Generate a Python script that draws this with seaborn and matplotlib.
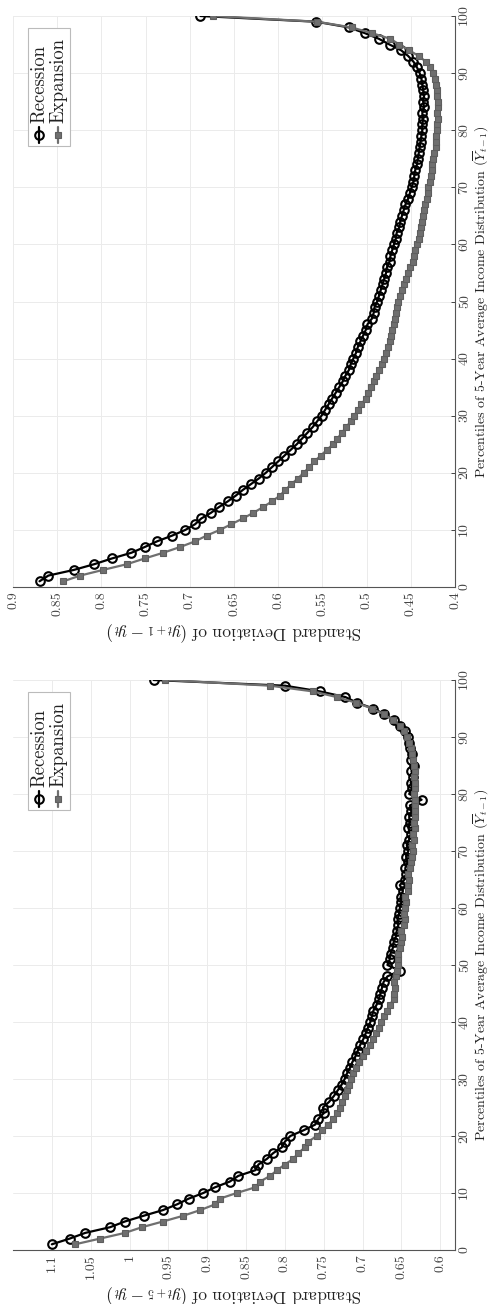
import seaborn as sns
import pandas as pd
import matplotlib.pyplot as plt
from matplotlib.lines import Line2D
from matplotlib.patches import Rectangle

# percentiles of the 5-year average income distribution
percentiles = list(range(1, 101))

# std of (y_{t+1} - y_t)
rec_1yr = [0.870, 0.860, 0.831, 0.808, 0.788, 0.766, 0.751, 0.737, 0.720, 0.705,
           0.694, 0.687, 0.676, 0.667, 0.657, 0.648, 0.640, 0.631, 0.622, 0.614,
           0.607, 0.600, 0.593, 0.586, 0.579, 0.573, 0.567, 0.561, 0.556, 0.551,
           0.547, 0.543, 0.539, 0.535, 0.531, 0.527, 0.524, 0.520, 0.518, 0.515,
           0.512, 0.510, 0.507, 0.504, 0.501, 0.499, 0.494, 0.492, 0.491, 0.488,
           0.486, 0.484, 0.482, 0.480, 0.478, 0.477, 0.474, 0.473, 0.471, 0.469,
           0.467, 0.466, 0.463, 0.462, 0.460, 0.458, 0.456, 0.453, 0.451, 0.449,
           0.447, 0.446, 0.445, 0.443, 0.442, 0.441, 0.440, 0.439, 0.438, 0.437,
           0.437, 0.436, 0.437, 0.435, 0.436, 0.435, 0.436, 0.437, 0.438, 0.440,
           0.443, 0.447, 0.453, 0.461, 0.474, 0.486, 0.502, 0.520, 0.557, 0.688]
exp_1yr = [0.843, 0.824, 0.798, 0.771, 0.751, 0.730, 0.711, 0.694, 0.681, 0.666,
           0.653, 0.640, 0.628, 0.617, 0.607, 0.598, 0.592, 0.585, 0.578, 0.571,
           0.565, 0.559, 0.552, 0.545, 0.538, 0.533, 0.528, 0.523, 0.518, 0.514,
           0.510, 0.506, 0.501, 0.498, 0.495, 0.492, 0.489, 0.486, 0.483, 0.480,
           0.478, 0.476, 0.474, 0.472, 0.471, 0.469, 0.468, 0.467, 0.466, 0.464,
           0.462, 0.460, 0.458, 0.455, 0.453, 0.451, 0.448, 0.446, 0.445, 0.443,
           0.441, 0.440, 0.439, 0.437, 0.436, 0.435, 0.434, 0.432, 0.431, 0.430,
           0.428, 0.427, 0.426, 0.426, 0.425, 0.424, 0.422, 0.421, 0.421, 0.420,
           0.420, 0.419, 0.420, 0.419, 0.419, 0.420, 0.420, 0.422, 0.423, 0.425,
           0.428, 0.433, 0.441, 0.452, 0.463, 0.473, 0.494, 0.517, 0.556, 0.674]

# std of (y_{t+5} - y_t)
rec_5yr = [1.100, 1.077, 1.057, 1.025, 1.006, 0.982, 0.957, 0.939, 0.924, 0.905,
           0.890, 0.871, 0.860, 0.838, 0.834, 0.823, 0.815, 0.804, 0.800, 0.793,
           0.776, 0.761, 0.757, 0.750, 0.751, 0.743, 0.737, 0.732, 0.727, 0.723,
           0.720, 0.716, 0.713, 0.709, 0.706, 0.703, 0.699, 0.696, 0.693, 0.690,
           0.688, 0.686, 0.682, 0.679, 0.677, 0.675, 0.673, 0.668, 0.652, 0.668,
           0.665, 0.664, 0.661, 0.660, 0.657, 0.656, 0.654, 0.655, 0.653, 0.652,
           0.650, 0.651, 0.648, 0.652, 0.646, 0.644, 0.645, 0.642, 0.644, 0.641,
           0.643, 0.640, 0.638, 0.641, 0.639, 0.640, 0.637, 0.639, 0.624, 0.640,
           0.636, 0.638, 0.635, 0.637, 0.634, 0.638, 0.636, 0.639, 0.640, 0.642,
           0.646, 0.652, 0.660, 0.672, 0.686, 0.707, 0.722, 0.755, 0.800, 0.969]
exp_5yr = [1.070, 1.038, 1.006, 0.984, 0.957, 0.931, 0.909, 0.890, 0.884, 0.862,
           0.838, 0.832, 0.819, 0.810, 0.800, 0.789, 0.783, 0.774, 0.770, 0.759,
           0.752, 0.744, 0.738, 0.733, 0.729, 0.726, 0.723, 0.720, 0.718, 0.715,
           0.712, 0.709, 0.705, 0.700, 0.696, 0.691, 0.687, 0.683, 0.679, 0.676,
           0.673, 0.669, 0.665, 0.660, 0.659, 0.658, 0.660, 0.657, 0.656, 0.655,
           0.654, 0.655, 0.652, 0.651, 0.649, 0.650, 0.647, 0.646, 0.647, 0.645,
           0.644, 0.645, 0.642, 0.641, 0.640, 0.642, 0.639, 0.638, 0.636, 0.635,
           0.636, 0.634, 0.635, 0.633, 0.634, 0.632, 0.633, 0.632, 0.633, 0.634,
           0.632, 0.633, 0.634, 0.632, 0.634, 0.635, 0.636, 0.638, 0.640, 0.643,
           0.647, 0.652, 0.661, 0.673, 0.688, 0.708, 0.733, 0.764, 0.819, 0.954]

ticks_1yr = [0.9, 0.85, 0.8, 0.75, 0.7, 0.65, 0.6, 0.55, 0.5, 0.45, 0.4]
ticks_5yr = [1.1, 1.05, 1.0, 0.95, 0.9, 0.85, 0.8, 0.75, 0.7, 0.65, 0.6]
pct_ticks = [0, 10, 20, 30, 40, 50, 60, 70, 80, 90, 100]

sns.set_style("white")
plt.rcParams["font.family"] = ["cmr10", "DejaVu Serif"]
plt.rcParams["mathtext.fontset"] = "cm"
plt.rcParams["axes.formatter.use_mathtext"] = True

GREY = "#6f6f6f"
rec_style = dict(color="black", marker="o", markersize=6.2, markerfacecolor="none",
                 markeredgecolor="black", markeredgewidth=1.5, linewidth=1.6)
exp_style = dict(color=GREY, marker="s", markersize=5, markerfacecolor=GREY,
                 markeredgecolor="#5e5e5e", markeredgewidth=0.8, linewidth=1.6)

pct_label = r"Percentiles of 5-Year Average Income Distribution ($\overline{Y}_{t-1}$)"


def draw_panel(ax, rec, exp, xlim, xticks, sd_label):
    df = pd.DataFrame({"pct": percentiles * 2, "sd": rec + exp,
                       "cycle": ["Recession"] * 100 + ["Expansion"] * 100})
    # the whole figure is turned a quarter turn: std on x, percentile on y
    sns.lineplot(data=df[df["cycle"] == "Recession"], x="sd", y="pct", orient="y",
                 sort=False, estimator=None, ax=ax, zorder=3, **rec_style)
    sns.lineplot(data=df[df["cycle"] == "Expansion"], x="sd", y="pct", orient="y",
                 sort=False, estimator=None, ax=ax, zorder=4, **exp_style)

    ax.set_xlim(*xlim)
    ax.set_ylim(0, 100)
    ax.set_xticks(xticks)
    ax.set_xticklabels([f"{t:g}" for t in xticks])
    ax.set_yticks(pct_ticks)
    ax.yaxis.tick_right()
    ax.yaxis.set_label_position("right")
    ax.tick_params(axis="both", direction="in", length=3, width=0.7,
                   colors="#444444", labelsize=10, labelrotation=90)
    ax.tick_params(axis="x", pad=3)
    ax.tick_params(axis="y", pad=2)
    for lab in ax.get_yticklabels():
        lab.set_verticalalignment("center")
    ax.grid(True, color="#ebebeb", linewidth=0.7)
    for side in ["top", "left"]:
        ax.spines[side].set_visible(False)
    for side in ["bottom", "right"]:
        ax.spines[side].set_color("#555555")
        ax.spines[side].set_linewidth(0.8)

    ax.set_xlabel(sd_label, rotation=180, fontsize=12.5, labelpad=3, color="#222222")
    ax.set_ylabel(pct_label, rotation=90, fontsize=10, labelpad=0, color="#222222")

    # legend, turned with the chart
    ax.add_patch(Rectangle((0.034, 0.772), 0.095, 0.207, transform=ax.transAxes,
                           facecolor="white", edgecolor="#bbbbbb", linewidth=0.8, zorder=6))
    for xf, label, style in [(0.059, "Recession", rec_style), (0.102, "Expansion", exp_style)]:
        ax.add_line(Line2D([xf, xf], [0.778, 0.805], transform=ax.transAxes,
                           color=style["color"], linewidth=style["linewidth"], zorder=7))
        ax.add_line(Line2D([xf], [0.791], transform=ax.transAxes, linestyle="none",
                           marker=style["marker"], markersize=style["markersize"],
                           markerfacecolor=style["markerfacecolor"],
                           markeredgecolor=style["markeredgecolor"],
                           markeredgewidth=style["markeredgewidth"], zorder=8))
        ax.text(xf, 0.812, label, rotation=90, ha="center", va="bottom",
                transform=ax.transAxes, fontsize=13.5, color="#222222", zorder=8)


fig = plt.figure(figsize=(4.93, 13.04), dpi=100)
ax_top = fig.add_axes([13 / 493, 1 - 587 / 1304, 442 / 493, 571 / 1304])
ax_bot = fig.add_axes([13 / 493, 1 - 1250 / 1304, 442 / 493, 570 / 1304])

draw_panel(ax_top, rec_1yr, exp_1yr, (0.9, 0.4), ticks_1yr,
           r"Standard Deviation of $(y_{t+1} - y_t)$")
draw_panel(ax_bot, rec_5yr, exp_5yr, (1.15, 0.581), ticks_5yr,
           r"Standard Deviation of $(y_{t+5} - y_t)$")

fig.savefig("out.png", dpi=100)
